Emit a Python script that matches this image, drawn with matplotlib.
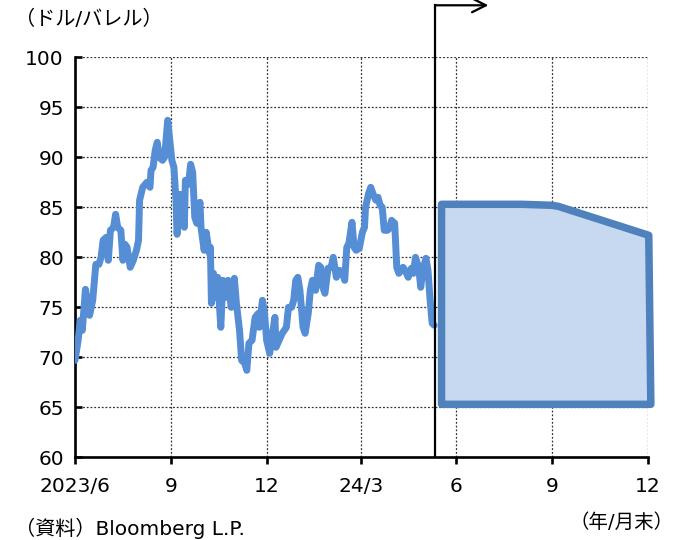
import pandas as pd
import matplotlib.pyplot as plt

plt.rcParams['font.family'] = ['DejaVu Sans', 'Noto Sans CJK JP']

# WTI daily
price_dates = [
    '2023-06-30', '2023-07-03', '2023-07-05', '2023-07-07', '2023-07-10', '2023-07-14',
    '2023-07-17', '2023-07-20', '2023-07-23', '2023-07-25', '2023-07-27', '2023-07-30',
    '2023-08-01', '2023-08-03', '2023-08-06', '2023-08-08', '2023-08-10', '2023-08-13',
    '2023-08-15', '2023-08-17', '2023-08-19', '2023-08-22', '2023-08-25', '2023-08-28',
    '2023-08-30', '2023-08-31', '2023-09-03', '2023-09-07', '2023-09-10', '2023-09-11',
    '2023-09-13', '2023-09-15', '2023-09-17', '2023-09-19', '2023-09-22', '2023-09-24',
    '2023-09-27', '2023-09-29', '2023-10-01', '2023-10-03', '2023-10-05', '2023-10-06',
    '2023-10-09', '2023-10-11', '2023-10-13', '2023-10-14', '2023-10-17', '2023-10-19',
    '2023-10-21', '2023-10-23', '2023-10-25', '2023-10-28', '2023-10-29', '2023-11-01',
    '2023-11-03', '2023-11-06', '2023-11-07', '2023-11-08', '2023-11-10', '2023-11-12',
    '2023-11-14', '2023-11-17', '2023-11-19', '2023-11-22', '2023-11-24', '2023-11-27',
    '2023-11-30', '2023-12-02', '2023-12-05', '2023-12-07', '2023-12-10', '2023-12-12',
    '2023-12-14', '2023-12-17', '2023-12-20', '2023-12-23', '2023-12-24', '2023-12-27',
    '2023-12-29', '2023-12-31', '2024-01-03', '2024-01-05', '2024-01-08', '2024-01-09',
    '2024-01-12', '2024-01-15', '2024-01-19', '2024-01-21', '2024-01-24', '2024-01-26',
    '2024-01-28', '2024-01-30', '2024-02-01', '2024-02-04', '2024-02-06', '2024-02-09',
    '2024-02-11', '2024-02-13', '2024-02-16', '2024-02-19', '2024-02-21', '2024-02-23',
    '2024-02-25', '2024-02-28', '2024-03-02', '2024-03-04', '2024-03-07', '2024-03-10',
    '2024-03-13', '2024-03-15', '2024-03-17', '2024-03-19', '2024-03-22', '2024-03-24',
    '2024-03-26', '2024-03-29', '2024-04-01', '2024-04-03', '2024-04-04', '2024-04-07',
    '2024-04-09', '2024-04-11', '2024-04-14', '2024-04-16', '2024-04-18', '2024-04-20',
    '2024-04-22', '2024-04-25', '2024-04-27', '2024-04-29', '2024-05-02', '2024-05-04',
    '2024-05-06', '2024-05-10', '2024-05-12', '2024-05-15', '2024-05-18', '2024-05-20',
    '2024-05-22', '2024-05-25', '2024-05-27', '2024-05-29', '2024-06-01', '2024-06-03',
    '2024-06-05', '2024-06-07', '2024-06-09',
]
price_values = [
    69.7, 71.7, 73.7, 72.7, 76.8, 74.2,
    75.7, 79.3, 79.3, 80.0, 81.7, 82.0,
    79.7, 82.7, 83.0, 84.3, 83.0, 82.7,
    79.7, 81.3, 81.0, 79.0, 79.7, 80.7,
    81.7, 85.7, 87.0, 87.5, 87.0, 88.7,
    89.0, 90.7, 91.5, 90.0, 89.7, 90.0,
    93.7, 91.7, 89.7, 89.0, 85.7, 82.3,
    86.3, 86.0, 83.0, 87.7, 87.3, 89.3,
    88.5, 84.0, 83.4, 85.5, 83.0, 80.7,
    82.5, 80.4, 81.0, 75.4, 78.4, 76.0,
    78.0, 73.0, 77.7, 76.0, 77.7, 75.0,
    77.9, 75.4, 72.7, 69.7, 69.4, 68.7,
    71.4, 71.7, 74.0, 74.4, 73.0, 75.7,
    74.4, 71.7, 70.4, 72.0, 74.0, 71.0,
    71.7, 72.4, 73.0, 75.0, 75.0, 75.7,
    77.7, 78.0, 76.7, 73.0, 72.4, 74.4,
    76.7, 77.7, 76.7, 79.2, 79.0, 77.0,
    76.4, 78.9, 79.0, 80.0, 78.0, 78.7,
    78.4, 77.7, 81.0, 81.4, 83.5, 81.0,
    80.7, 80.9, 82.5, 83.0, 85.0, 86.4,
    87.0, 86.4, 85.7, 86.0, 85.2, 85.0,
    82.7, 82.7, 82.9, 83.7, 83.4, 79.0,
    78.4, 79.0, 78.7, 78.0, 78.9, 78.4,
    80.0, 79.0, 77.0, 78.7, 79.9, 78.7,
    75.7, 73.4, 73.2,
]

# forecast range (upper edge, flat lower edge)
fc_dates = ['2024-06-16', '2024-09-01', '2024-09-30', '2024-10-06', '2025-01-01']
fc_high = [85.3, 85.3, 85.2, 85.1, 82.2]
fc_low = 65.3
fc_low_end = '2025-01-03'

forecast_start = '2024-06-10'
arrow_end = '2024-07-31'

tick_dates = ['2023-06-30', '2023-09-30', '2023-12-31', '2024-03-31',
              '2024-06-30', '2024-09-30', '2024-12-31']
tick_labels = ['2023/6', '9', '12', '24/3', '6', '9', '12']
y_ticks = [60, 65, 70, 75, 80, 85, 90, 95, 100]

fig = plt.figure(figsize=(6.74, 5.40), dpi=100)
ax = fig.add_axes([0.1113, 0.1531, 0.8497, 0.7408])

x = pd.to_datetime(price_dates)
ax.plot(x, price_values, color='#558ED5', lw=5.0, solid_joinstyle='round',
        solid_capstyle='round', zorder=3)

fx = pd.to_datetime([fc_dates[0]] + fc_dates + [fc_low_end])
fy = [fc_low] + fc_high + [fc_low]
ax.fill(fx, fy, facecolor='#C6D9F1', edgecolor='#4F81BD', lw=5.4,
        joinstyle='round', clip_on=False, zorder=3)

# forecast marker line + arrow
fs = pd.Timestamp(forecast_start)
ax.plot([fs, fs], [60, 105.2], color='black', lw=1.6, clip_on=False, zorder=4)
ax.annotate('', xy=(pd.Timestamp(arrow_end), 105.2), xytext=(fs, 105.2),
            arrowprops=dict(arrowstyle='->,head_length=0.5,head_width=0.25',
                            color='black', lw=1.6, mutation_scale=20,
                            shrinkA=0, shrinkB=0),
            annotation_clip=False)

ax.set_xlim(pd.Timestamp(tick_dates[0]), pd.Timestamp(tick_dates[-1]))
ax.set_ylim(60, 100)
ax.set_xticks(pd.to_datetime(tick_dates))
ax.set_xticklabels(tick_labels)
ax.set_yticks(y_ticks)

ax.grid(True, color='#333333', lw=0.9, linestyle=(0, (1.5, 1.5)))
ax.set_axisbelow(True)
for s in ['top', 'right']:
    ax.spines[s].set_visible(False)
for s in ['left', 'bottom']:
    ax.spines[s].set_linewidth(1.9)
ax.tick_params(axis='y', direction='in', length=5, width=1.9, labelsize=14.5, pad=8)
ax.tick_params(axis='x', direction='out', length=5, width=1.9, labelsize=14.5, pad=9)

fig.text(0.022, 0.965, '（ドル/バレル）', fontsize=14.5, va='center', ha='left')
fig.text(0.022, 0.022, '（資料）Bloomberg L.P.', fontsize=14.5, va='center', ha='left')
fig.text(1.0, 0.033, '（年/月末）', fontsize=14, va='center', ha='right')

fig.savefig('out.png', dpi=100)
